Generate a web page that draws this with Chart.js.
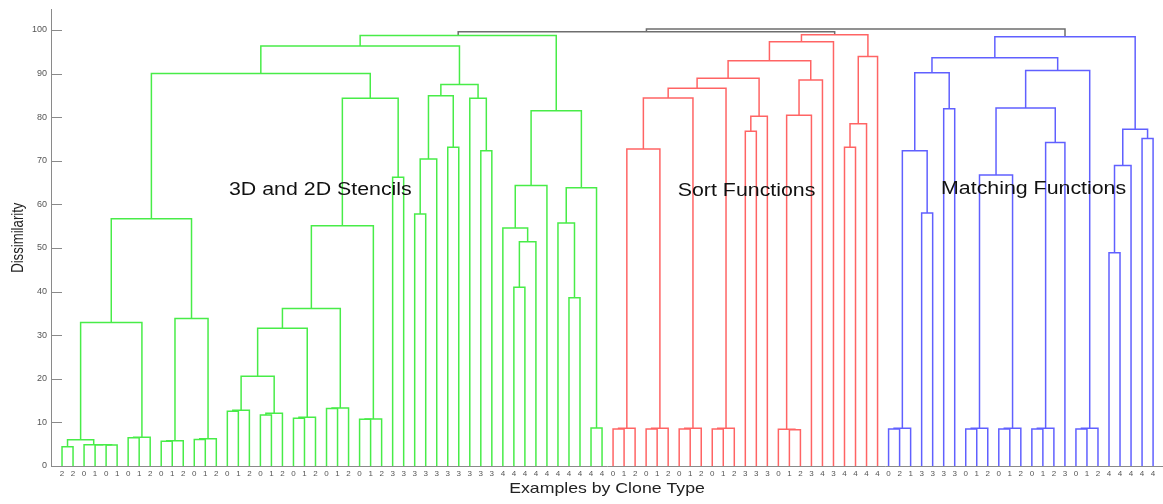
<!DOCTYPE html>
<html>
<head>
<meta charset="utf-8">
<script src="https://cdn.jsdelivr.net/npm/chart.js@4.4.1/dist/chart.umd.min.js"></script>
<style>
  html, body { margin: 0; padding: 0; background: #fff; }
  canvas { display: block; }
</style>
</head>
<body>
<canvas id="place__graph" width="1163" height="504"></canvas>
<script>
// clone type of every leaf, left to right
const leafLabels = [
  2,2,0,1,0,1,0,1,2, 0,1,2,0,1,2,0,1,2,0,1,2,0,1,2,0,1,2, 0,1,2,
  3,3,3,3,3,3,3,3,3,3, 4,4,4,4,4,4,4,4,4,4,
  0,1,2,0,1,2,0,1,2,0,1,2, 3,3,3, 0,1,2, 3,4,3,4,4,4,4,
  0,2,1, 3,3,3,3, 0,1,2,0,1,2,0,1,2, 3, 0,1,2, 4,4,4,4,4
];

// merges: [left, right, height]; numbers are leaves, 'g5' = 5th green merge etc.
const greenMerges = [
  [1, 2, 4.4], [5, 6, 4.8], [4, 'g2', 4.85], [3, 'g3', 4.9], ['g1', 'g4', 6.0],
  [7, 8, 6.45], ['g6', 9, 6.6], ['g5', 'g7', 32.9],
  [10, 11, 5.65], ['g9', 12, 5.8], [13, 14, 6.1], ['g11', 15, 6.25], ['g10', 'g12', 33.8],
  ['g8', 'g13', 56.7],
  [16, 17, 12.55], ['g15', 18, 12.8], [19, 20, 11.7], ['g17', 21, 12.1], ['g16', 'g18', 20.6],
  [22, 23, 10.95], ['g20', 24, 11.2], ['g19', 'g21', 31.6],
  [25, 26, 13.2], ['g23', 27, 13.3], ['g22', 'g24', 36.1],
  [28, 29, 10.7], ['g26', 30, 10.8], ['g25', 'g27', 55.1],
  [31, 32, 66.2], ['g28', 'g29', 84.3], ['g14', 'g30', 90.0],
  [33, 34, 57.8], ['g32', 35, 70.4], [36, 37, 73.1], ['g33', 'g34', 84.9],
  [39, 40, 72.3], [38, 'g36', 84.3], ['g35', 'g37', 87.5], ['g31', 'g38', 96.3],
  [42, 43, 41.0], ['g40', 44, 51.4], [41, 'g41', 54.6], ['g42', 45, 64.3],
  [47, 48, 38.6], [46, 'g44', 55.7], [49, 50, 8.7], ['g45', 'g46', 63.8],
  ['g43', 'g47', 81.45], ['g39', 'g48', 98.7]
];

const redMerges = [
  [51, 52, 8.5], ['r1', 53, 8.65], [54, 55, 8.5], ['r3', 56, 8.65],
  [57, 58, 8.5], ['r5', 59, 8.65], [60, 61, 8.5], ['r7', 62, 8.65],
  ['r2', 'r4', 72.7], ['r9', 'r6', 84.4], ['r10', 'r8', 86.6],
  [63, 64, 76.75], ['r12', 65, 80.2], ['r11', 'r13', 88.9],
  [67, 68, 8.3], [66, 'r15', 8.4], ['r16', 69, 80.4], ['r17', 70, 88.5],
  ['r14', 'r18', 92.95], ['r19', 71, 97.3],
  [72, 73, 73.1], ['r21', 74, 78.5], ['r22', 75, 93.9],
  ['r20', 'r23', 98.9]
];

const blueMerges = [
  [76, 77, 8.5], ['b1', 78, 8.65], [79, 80, 58.0], ['b2', 'b3', 72.3],
  [81, 82, 81.9], ['b4', 'b5', 90.2],
  [83, 84, 8.5], ['b7', 85, 8.65], [86, 87, 8.5], ['b9', 88, 8.65], ['b8', 'b10', 66.7],
  [89, 90, 8.5], ['b12', 91, 8.65], ['b13', 92, 74.2], ['b11', 'b14', 82.1],
  [93, 94, 8.5], ['b16', 95, 8.65], ['b15', 'b17', 90.7], ['b6', 'b18', 93.6],
  [96, 97, 48.9], ['b20', 98, 68.9], [99, 100, 75.1], ['b21', 'b22', 77.2],
  ['b19', 'b23', 98.4]
];

const topMerges = [
  ['g49', 'r24', 99.6], ['t1', 'b24', 100.2]
];

const clusterNames = ['3D and 2D Stencils', 'Sort Functions', 'Matching Functions'];
const yTickValues = [0, 10, 20, 30, 40, 50, 60, 70, 80, 90, 100];

const FONT = '"Liberation Sans", Arial, Helvetica, sans-serif';
const STRETCH = 1.22; // text in the source is a bit wide

// build link lines from the merge tables
const groups = [
  { prefix: 'g', rows: greenMerges, color: 'rgb(72,236,72)' },
  { prefix: 'r', rows: redMerges, color: 'rgb(255,100,100)' },
  { prefix: 'b', rows: blueMerges, color: 'rgb(96,96,255)' },
  { prefix: 't', rows: topMerges, color: 'rgb(110,110,110)' }
];
const nodes = {};
const ref = r => typeof r === 'number' ? { x: r, h: 0 } : nodes[r];
const datasets = [];
groups.forEach(g => {
  g.rows.forEach((m, i) => {
    const a = ref(m[0]), b = ref(m[1]), h = m[2];
    nodes[g.prefix + (i + 1)] = { x: (a.x + b.x) / 2, h: h };
    datasets.push({
      data: [{ x: a.x, y: a.h }, { x: a.x, y: h }, { x: b.x, y: h }, { x: b.x, y: b.h }],
      borderColor: g.color,
      borderWidth: 1.5
    });
  });
});

const decor = {
  id: 'decor',
  afterDraw(chart, args, opts) {
    const { ctx, chartArea, scales: { x, y } } = chart;
    ctx.save();
    // inward tick marks on the y axis
    ctx.strokeStyle = '#8a8a8a';
    ctx.lineWidth = 1;
    yTickValues.forEach(v => {
      const py = Math.round(y.getPixelForValue(v)) + 0.5;
      ctx.beginPath();
      ctx.moveTo(chartArea.left, py);
      ctx.lineTo(chartArea.left + 11, py);
      ctx.stroke();
    });
    // cluster names
    ctx.fillStyle = '#111';
    ctx.textBaseline = 'alphabetic';
    ctx.textAlign = 'left';
    ctx.font = '17.5px ' + FONT;
    clusterNames.forEach((name, i) => {
      const p = opts.namePos[i];
      ctx.save();
      ctx.translate(x.getPixelForValue(p.x), y.getPixelForValue(p.y));
      ctx.scale(STRETCH, 1);
      ctx.fillText(name, 0, 0);
      ctx.restore();
    });
    // axis titles
    ctx.fillStyle = '#222';
    ctx.textAlign = 'center';
    ctx.font = '14.5px ' + FONT;
    ctx.save();
    ctx.translate((chartArea.left + chartArea.right) / 2, 493.3);
    ctx.scale(STRETCH, 1);
    ctx.fillText('Examples by Clone Type', 0, 0);
    ctx.restore();
    ctx.font = '13.2px ' + FONT;
    ctx.save();
    ctx.translate(23.3, (chartArea.top + chartArea.bottom) / 2);
    ctx.rotate(-Math.PI / 2);
    ctx.scale(1, STRETCH);
    ctx.fillText('Dissimilarity', 0, 0);
    ctx.restore();
    ctx.restore();
  }
};

const ctx = document.getElementById('place__graph').getContext('2d');
const chart = new Chart(ctx, {
  type: 'line',
  data: { datasets: datasets },
  plugins: [decor],
  options: {
    responsive: false,
    animation: false,
    devicePixelRatio: 1,
    layout: { padding: { top: 7, right: 0, left: 0, bottom: 0 } },
    elements: { point: { radius: 0, hoverRadius: 0 }, line: { tension: 0, fill: false } },
    plugins: {
      legend: { display: false },
      tooltip: { enabled: false },
      decor: {
        namePos: [{ x: 16.15, y: 62.2 }, { x: 56.87, y: 62.0 }, { x: 80.76, y: 62.35 }]
      }
    },
    scales: {
      x: {
        type: 'linear',
        min: 0,
        max: 100.9,
        afterFit: s => { s.height = 38; },
        afterBuildTicks: s => { s.ticks = leafLabels.map((_, i) => ({ value: i + 1 })); },
        grid: { display: false, drawTicks: false },
        border: { display: true, color: '#8a8a8a', width: 1 },
        ticks: {
          autoSkip: false,
          maxRotation: 0,
          minRotation: 0,
          padding: 3,
          color: '#555',
          font: { family: FONT, size: 8 },
          callback: (v, i) => String(leafLabels[i])
        }
      },
      y: {
        min: 0,
        max: 104.7,
        afterFit: s => { s.width = 51; },
        afterBuildTicks: s => { s.ticks = yTickValues.map(v => ({ value: v })); },
        grid: { display: false, drawTicks: false },
        border: { display: true, color: '#8a8a8a', width: 1 },
        ticks: {
          padding: 4,
          color: '#555',
          font: { family: FONT, size: 9 }
        }
      }
    }
  }
});
</script>
</body>
</html>
